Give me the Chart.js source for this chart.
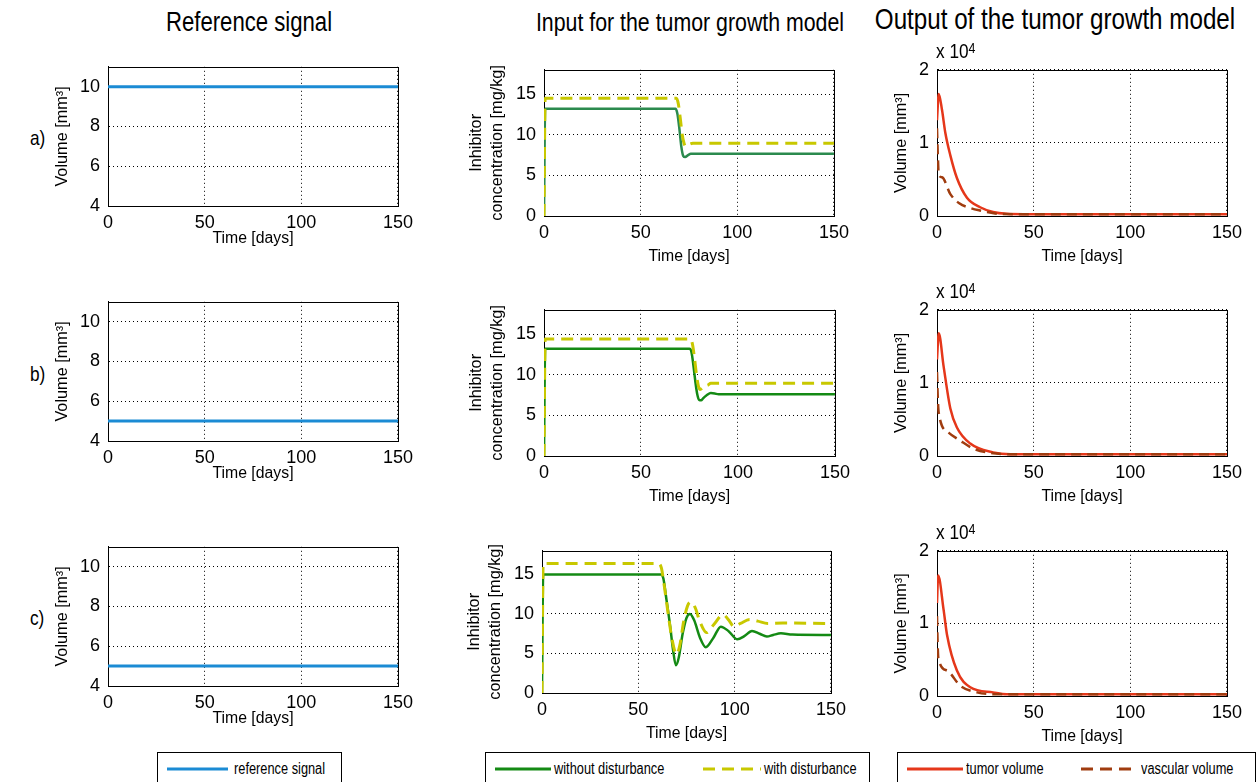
<!DOCTYPE html>
<html>
<head>
<meta charset="utf-8">
<script src="https://cdn.jsdelivr.net/npm/chart.js@4.4.1/dist/chart.umd.min.js"></script>
<style>
  html, body { margin: 0; padding: 0; background: #fff; }
  body { width: 1260px; height: 782px; position: relative; overflow: hidden; color: #000;
         font-family: 'Liberation Sans', Arial, sans-serif; }
  canvas { position: absolute; }
  .txt { position: absolute; white-space: nowrap; line-height: 1; transform: translate(-50%, -50%) scaleX(0.82); }
  .lbl { position: absolute; white-space: nowrap; line-height: 1; transform-origin: left center; transform: translateY(-50%) scaleX(0.82); }
  .lbl sup { font-size: 0.72em; position: relative; top: -0.35em; vertical-align: baseline; }
  .legend { position: absolute; top: 752px; height: 40px; border: 1px solid #000; background: #fff; }
  .legend svg, .legend span { position: absolute; }
  .legend svg { top: 13px; }
  .legend span { top: 8px; font-size: 16px; line-height: 16px; white-space: nowrap; transform-origin: left center; transform: scaleX(0.8); }
</style>
</head>
<body>

<div class="txt" style="left:249px; top:22px; font-size:27px;">Reference signal</div>
<div class="txt" style="left:690px; top:22px; font-size:26px;">Input for the tumor growth model</div>
<div class="txt" style="left:1055px; top:19px; font-size:29.5px;">Output of the tumor growth model</div>

<div class="lbl" style="left:30px; top:137px; font-size:21px;">a)</div>
<div class="lbl" style="left:30px; top:373px; font-size:21px;">b)</div>
<div class="lbl" style="left:30px; top:617px; font-size:21px;">c)</div>

<div class="lbl" style="left:936px; top:50px; font-size:21px;">x 10<sup>4</sup></div>
<div class="lbl" style="left:936px; top:290px; font-size:21px;">x 10<sup>4</sup></div>
<div class="lbl" style="left:936px; top:531px; font-size:21px;">x 10<sup>4</sup></div>

<div class="legend" style="left:157px; width:183px;">
  <svg width="61" height="6" style="left:9px"><line x1="0" y1="3" x2="61" y2="3" stroke="#1b8bd4" stroke-width="3"/></svg>
  <span style="left:76px">reference signal</span>
</div>
<div class="legend" style="left:485px; width:383px;">
  <svg width="56" height="6" style="left:9px"><line x1="0" y1="3" x2="56" y2="3" stroke="#148a14" stroke-width="3"/></svg>
  <span style="left:68px">without disturbance</span>
  <svg width="58" height="6" style="left:217px"><line x1="0" y1="3" x2="58" y2="3" stroke="#c8c800" stroke-width="3" stroke-dasharray="12 7"/></svg>
  <span style="left:278px">with disturbance</span>
</div>
<div class="legend" style="left:897px; width:357px;">
  <svg width="56" height="6" style="left:9px"><line x1="0" y1="3" x2="56" y2="3" stroke="#e5371a" stroke-width="3"/></svg>
  <span style="left:68px">tumor volume</span>
  <svg width="56" height="6" style="left:183px"><line x1="0" y1="3" x2="56" y2="3" stroke="#a03c0f" stroke-width="3" stroke-dasharray="12 7"/></svg>
  <span style="left:243px">vascular volume</span>
</div>

<script>
// ---- data ----
const xTicks = [0, 50, 100, 150];
const refTicks = [4, 6, 8, 10];
const inTicks = [0, 5, 10, 15];
const outTicks = [0, 10000, 20000];

// reference signal (column 1)
const refTime = [0, 150];
const refA = [10, 10];
const refB = [5, 5];
const refC = [5, 5];

// inhibitor concentration (column 2)
const inA_tNo = [0, 0.6, 68, 69, 70, 71, 72, 73, 74.5, 76, 150];
const inA_no  = [0, 13.2, 13.2, 12.6, 10.8, 8.6, 7.4, 7.25, 7.5, 7.65, 7.65];
const inA_tDis = [0, 0.6, 68.5, 69.5, 70.5, 71.5, 72.5, 73.5, 75, 77, 150];
const inA_dis  = [0, 14.5, 14.5, 13.8, 12, 10, 8.9, 8.55, 8.8, 8.95, 8.95];

const inB_tNo = [0, 0.6, 75, 76, 77, 78, 79, 80, 81, 82, 84, 86, 88, 90, 150];
const inB_no  = [0, 13.2, 13.2, 12.8, 11.2, 9.2, 7.6, 6.9, 6.85, 7.1, 7.5, 7.75, 7.7, 7.6, 7.6];
const inB_tDis = [0, 0.6, 75.5, 76.5, 77.5, 78.5, 79.5, 80.5, 82, 83, 84, 86, 150];
const inB_dis  = [0, 14.4, 14.4, 13.8, 12.2, 10.2, 8.7, 8.2, 8.45, 8.7, 8.7, 8.95, 8.95];

const inC_tNo = [0, 0.6, 61.7, 63, 64.5, 66.5, 68, 69.5, 71, 73, 75, 76.8, 79, 82, 85, 89, 92.8, 97, 101.4, 105, 109, 113, 116.7, 120, 124, 130, 150];
const inC_no  = [0, 15, 15, 14.5, 12, 8.5, 5.5, 3.5, 4.5, 7.5, 9.5, 10, 9.2, 7, 5.8, 7, 8.4, 7.8, 6.8, 7.2, 7.85, 7.5, 7.15, 7.35, 7.55, 7.4, 7.35];
const inC_tDis = [0, 0.6, 60.3, 62, 63.5, 65.5, 67.5, 69.8, 71.5, 73.5, 75.5, 77.2, 79.5, 82, 85.4, 89, 94, 97, 99.6, 103, 107.8, 112, 117.2, 125, 150];
const inC_dis  = [0, 16.4, 16.4, 15.8, 13.5, 10, 6.8, 4.9, 6, 9, 11, 11.5, 10.8, 9, 7.65, 8.6, 9.9, 9.2, 8.4, 8.8, 9.3, 9.1, 8.8, 8.85, 8.8];

// tumor / vascular volume (column 3)
const outA_tTum = [0, 0.9, 2.6, 4.3, 6.9, 10.3, 15.5, 22.3, 29, 36, 45, 150];
const outA_tum  = [13100, 16700, 14500, 11400, 8300, 5200, 2500, 1200, 550, 300, 250, 250];
const outA_tVas = [0, 0.4, 0.9, 2.6, 6.9, 11.7, 17.2, 22.3, 30, 40, 150];
const outA_vas  = [12000, 8500, 5600, 5300, 3000, 1700, 1100, 750, 350, 250, 250];

const outB_tTum = [0, 0.9, 3.4, 6.9, 10.3, 17.2, 29, 38, 150];
const outB_tum  = [13200, 16800, 12300, 6500, 3900, 1700, 500, 250, 250];
const outB_tVas = [0, 0.4, 0.9, 6, 12, 18.9, 28, 38, 150];
const outB_vas  = [11500, 8000, 5900, 3200, 2100, 1000, 400, 250, 250];

const outC_tTum = [0, 0.6, 3.4, 5.2, 10.3, 17.2, 29, 36, 150];
const outC_tum  = [12800, 16600, 11900, 8400, 3500, 1200, 500, 250, 250];
const outC_tVas = [0, 0.3, 0.7, 5.2, 12.1, 20.7, 30, 150];
const outC_vas  = [11000, 7500, 5200, 3500, 1400, 500, 250, 250];

// ---- styling ----
const FONT = "'Liberation Sans', Arial, sans-serif";
const BLUE = '#1b8bd4', GREEN_A = '#2b8a4e', GREEN = '#148a14', YELLOW = '#c8c800',
      RED = '#e5371a', BROWN = '#a03c0f';
const PAD_TOP = 15, PAD_RIGHT = 20;

// each column: axis box sizes, y range and titles
const columns = {
  ref: { yw: 60, xh: 50, ymin: 4, ymax: 11, yTicks: refTicks, title: 'Volume [mm³]', titlePad: 4.5, lh: 1.2, fmt: v => v },
  inp: { yw: 80, xh: 58, ymin: 0, ymax: 18, yTicks: inTicks, title: ['Inhibitor', 'concentration [mg/kg]'], titlePad: 1.6, lh: 1.325, fmt: v => v },
  out: { yw: 50, xh: 58, ymin: 0, ymax: 20000, yTicks: outTicks, title: 'Volume [mm³]', titlePad: 4.9, lh: 1.2, fmt: v => v / 10000 }
};

const pts = (xs, ys) => xs.map((x, i) => ({ x: x, y: ys[i] }));

// solid frame round the plot area, like a boxed axes
const framePlugin = {
  id: 'frame',
  beforeDatasetsDraw(chart) {
    const { ctx, chartArea: a } = chart;
    ctx.save();
    ctx.setLineDash([]);
    ctx.strokeStyle = '#000';
    ctx.lineWidth = 1;
    ctx.strokeRect(Math.round(a.left) + 0.5, Math.round(a.top) + 0.5,
                   Math.round(a.right - a.left), Math.round(a.bottom - a.top));
    ctx.restore();
  }
};

function line(xs, ys, color, opts = {}) {
  return Object.assign({
    data: pts(xs, ys),
    borderColor: color,
    borderWidth: 2.5,
    pointRadius: 0,
    fill: false,
    cubicInterpolationMode: 'monotone'
  }, opts);
}

function makePanel(rect, colKey, datasets) {
  const col = columns[colKey];
  const [l, t, r, b] = rect;
  const canvas = document.createElement('canvas');
  const w = (r - l) + col.yw + PAD_RIGHT;
  const h = (b - t) + PAD_TOP + col.xh;
  canvas.width = w;
  canvas.height = h;
  canvas.style.left = (l - col.yw) + 'px';
  canvas.style.top = (t - PAD_TOP) + 'px';
  canvas.style.width = w + 'px';
  canvas.style.height = h + 'px';
  document.body.insertBefore(canvas, document.body.firstChild);

  const gridCommon = { color: '#000', lineWidth: 1, drawTicks: false };
  const borderCommon = { display: true, color: '#000', width: 1, dash: [1, 3] };

  new Chart(canvas.getContext('2d'), {
    type: 'line',
    data: { datasets: datasets },
    options: {
      responsive: false,
      animation: false,
      devicePixelRatio: 1,
      layout: { padding: { left: 0, top: PAD_TOP, right: PAD_RIGHT, bottom: 0 } },
      plugins: { legend: { display: false }, tooltip: { enabled: false } },
      scales: {
        x: {
          type: 'linear', min: 0, max: 150,
          afterBuildTicks: s => { s.ticks = xTicks.map(v => ({ value: v })); },
          afterFit: s => { s.height = col.xh; },
          ticks: { color: '#000', padding: 6, maxRotation: 0, font: { family: FONT, size: 18 } },
          grid: gridCommon,
          border: borderCommon,
          title: { display: true, text: 'Time [days]', color: '#000',
                   font: { family: FONT, size: 15.8, lineHeight: 1.2 }, padding: { top: 0, bottom: 7.5 } }
        },
        y: {
          type: 'linear', min: col.ymin, max: col.ymax,
          afterBuildTicks: s => { s.ticks = col.yTicks.map(v => ({ value: v })); },
          afterFit: s => { s.width = col.yw; },
          ticks: { color: '#000', padding: 8, font: { family: FONT, size: 18 }, callback: col.fmt },
          grid: gridCommon,
          border: borderCommon,
          title: { display: true, text: col.title, color: '#000',
                   font: { family: FONT, size: 16.3, lineHeight: col.lh }, padding: { top: col.titlePad, bottom: 0 } }
        }
      }
    },
    plugins: [framePlugin]
  });
}

// column 1: reference signal
makePanel([108, 63, 399, 206], 'ref', [line(refTime, refA, BLUE, { borderWidth: 3, cubicInterpolationMode: 'default' })]);
makePanel([108, 298, 399, 441], 'ref', [line(refTime, refB, BLUE, { borderWidth: 3, cubicInterpolationMode: 'default' })]);
makePanel([108, 543, 399, 686], 'ref', [line(refTime, refC, BLUE, { borderWidth: 3, cubicInterpolationMode: 'default' })]);

// column 2: inhibitor input (dashed series drawn on top)
makePanel([544, 66, 835, 216], 'inp', [
  line(inA_tNo, inA_no, GREEN_A, { order: 1 }),
  line(inA_tDis, inA_dis, YELLOW, { borderWidth: 3, borderDash: [12, 7], order: 0 })
]);
makePanel([544, 306, 836, 456], 'inp', [
  line(inB_tNo, inB_no, GREEN, { order: 1 }),
  line(inB_tDis, inB_dis, YELLOW, { borderWidth: 3, borderDash: [12, 7], order: 0 })
]);
makePanel([542, 547, 832, 693], 'inp', [
  line(inC_tNo, inC_no, GREEN, { order: 1 }),
  line(inC_tDis, inC_dis, YELLOW, { borderWidth: 3, borderDash: [12, 7], order: 0 })
]);

// column 3: tumor growth model output
makePanel([937, 66, 1228, 216], 'out', [
  line(outA_tTum, outA_tum, RED, { order: 1 }),
  line(outA_tVas, outA_vas, BROWN, { borderDash: [10, 6], order: 0 })
]);
makePanel([937, 306, 1228, 456], 'out', [
  line(outB_tTum, outB_tum, RED, { order: 1 }),
  line(outB_tVas, outB_vas, BROWN, { borderDash: [10, 6], order: 0 })
]);
makePanel([937, 547, 1228, 696], 'out', [
  line(outC_tTum, outC_tum, RED, { order: 1 }),
  line(outC_tVas, outC_vas, BROWN, { borderDash: [10, 6], order: 0 })
]);
</script>
</body>
</html>
